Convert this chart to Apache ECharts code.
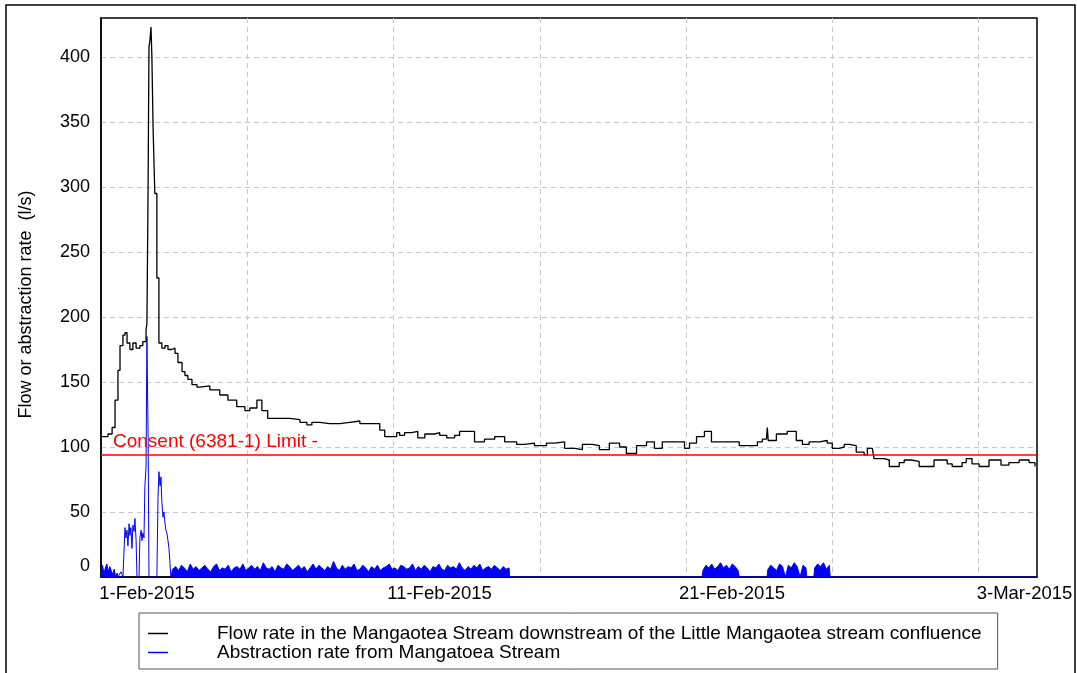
<!DOCTYPE html>
<html>
<head>
<meta charset="utf-8">
<title>Mangaotea Stream flow and abstraction</title>
<script src="https://cdn.jsdelivr.net/npm/echarts@6/dist/echarts.min.js"></script>
<style>
  html, body { margin: 0; padding: 0; background: #fff; }
  #main { width: 1077px; height: 673px; }
</style>
</head>
<body>
<div id="main"></div>
<script>
// all x values are days after 1-Feb-2015 00:00
var flowName = 'Flow rate in the Mangaotea Stream downstream of the Little Mangaotea stream confluence';
var absName = 'Abstraction rate from Mangatoea Stream';
var consentLabel = 'Consent (6381-1) Limit -';
var consentLimit = 94;

var xTickDays = [0, 10, 20, 30];
var xTickLabels = ['1-Feb-2015', '11-Feb-2015', '21-Feb-2015', '3-Mar-2015'];

// flow (l/s)
var flowDay = [0.00, 0.24, 0.38, 0.48, 0.58, 0.65, 0.75, 0.82, 0.89, 0.99, 1.09, 1.20, 1.33, 1.43, 1.54, 1.57,
  1.61, 1.64, 1.67, 1.71, 1.74, 1.78, 1.84, 1.91, 1.98, 2.08, 2.19, 2.29, 2.42, 2.53, 2.63, 2.77, 2.87, 2.97,
  3.11, 3.28, 3.38, 3.72, 4.06, 4.34, 4.64, 4.92, 5.09, 5.33, 5.50, 5.70, 5.94, 6.45, 6.80, 7.04, 7.21, 7.48,
  7.82, 8.16, 8.51, 8.85, 9.19, 9.53, 9.70, 9.87, 10.11, 10.21, 10.38, 10.62, 10.83, 11.07, 11.41, 11.58, 11.82,
  12.09, 12.26, 12.70, 12.77, 13.11, 13.46, 13.80, 14.21, 14.48, 14.82, 15.23, 15.51, 15.85, 16.19, 16.46, 16.80,
  17.04, 17.38, 17.73, 17.96, 18.31, 18.65, 18.92, 19.19, 19.54, 19.95, 20.12, 20.36, 20.63, 20.87, 21.14, 21.65,
  21.82, 22.17, 22.44, 22.61, 22.75, 22.78, 22.81, 23.09, 23.46, 23.77, 23.98, 24.21, 24.56, 24.83, 25.00, 25.24,
  25.41, 25.58, 25.82, 26.09, 26.20, 26.37, 26.43, 26.78, 26.95, 27.29, 27.46, 27.70, 27.97, 28.31, 28.48, 28.65,
  28.93, 29.10, 29.44, 29.58, 29.78, 30.02, 30.36, 30.60, 30.77, 31.04, 31.39, 31.73, 31.93];
var flowRate = [108, 110, 115, 136, 159, 178, 186, 188, 180, 175, 180, 176, 178, 181, 190, 195,
  300, 408, 412, 423, 400, 346, 295, 230, 180, 176, 178, 175, 176, 172, 165, 158, 155, 152,
  148, 146, 147, 144, 140, 136, 131, 128, 130, 136, 128, 122, 122, 121, 119, 117, 119, 118,
  118, 119, 120, 118, 118, 113, 108, 108, 111, 109, 111, 112, 107, 110, 111, 109, 107,
  109, 112, 112, 104, 106, 108, 104, 102, 103, 101, 103, 104, 99, 98, 102, 101,
  98, 103, 100, 95, 101, 104, 99, 104, 104, 99, 103, 108, 112, 104, 104, 104,
  101, 101, 104, 106, 106, 115, 105, 110, 112, 105, 102, 104, 105, 103, 99, 100,
  102, 101, 96, 94, 99, 100, 91, 90, 85, 88, 90, 89, 85, 85, 90, 90,
  87, 85, 88, 91, 87, 85, 90, 90, 86, 88, 90, 88, 85];

// abstraction (l/s): logged stretches sampled every 0.05 / 0.1 day, plus the early pulses
var absNoiseA = [6, 9, 3, 7, 10, 4, 8, 5, 2, 6, 0, 3];
var absPulseDay = [0.58, 0.68, 0.75, 0.82, 0.85, 0.89, 0.92, 0.96, 0.99, 1.02, 1.06, 1.09, 1.13, 1.16, 1.20, 1.23,
  1.30, 1.33, 1.37, 1.40, 1.43, 1.47, 1.50, 1.54, 1.57, 1.61, 1.64, 1.91, 1.95, 1.98, 2.02, 2.05, 2.08, 2.12,
  2.15, 2.19, 2.22, 2.25, 2.29, 2.32, 2.36, 2.39];
var absPulseRate = [0, 4, 0, 38, 30, 36, 24, 41, 32, 38, 22, 40, 35, 45, 28, 0,
  0, 30, 36, 28, 34, 30, 70, 85, 185, 110, 0, 0, 62, 81, 70, 77, 58, 46,
  50, 41, 36, 34, 28, 23, 10, 0];
var absNoiseB = [6, 8, 5, 9, 7, 4, 10, 6, 8, 5, 7, 9, 6, 4, 8, 10, 5, 7, 6, 9,
  4, 7, 8, 6, 10, 5, 7, 9, 6, 8, 5, 11, 7, 6, 8, 4, 9, 7, 6, 10,
  8, 5, 7, 9, 6, 8, 4, 7, 10, 6, 9, 7, 5, 8, 6, 12, 7, 5, 9, 6,
  8, 7, 10, 5, 6, 9, 7, 4, 8, 6, 9, 5, 7, 8, 10, 6, 7, 5, 9, 8,
  6, 7, 10, 5, 8, 6, 9, 7, 4, 8, 7, 10, 6, 5, 9, 7, 8, 6, 11, 7,
  5, 8, 6, 9, 7, 10, 5, 7, 8, 6, 9, 7, 5, 8, 6, 7];
var absNoiseC = [5, 9, 7, 10, 6, 8, 11, 7, 9, 6, 10, 8, 5];
var absNoiseD = [6, 9, 7, 5, 10, 8, 0, 9, 7, 11, 8, 0, 9, 7];
var absNoiseE = [7, 10, 8, 11, 6, 9];

function dayKey(v) { return Math.round(v * 100) / 100; }

var flowData = flowDay.map(function (d, i) { return [d, flowRate[i]]; });

var absData = [];
function addStretch(start, step, vals) {
  vals.forEach(function (v, i) { absData.push([dayKey(start + i * step), v]); });
}
addStretch(0, 0.05, absNoiseA);
absPulseDay.forEach(function (d, i) { absData.push([d, absPulseRate[i]]); });
addStretch(2.45, 0.1, absNoiseB);
absData.push([13.97, 0], [20.55, 0]);
addStretch(20.58, 0.1, absNoiseC);
absData.push([21.82, 0], [22.77, 0]);
addStretch(22.80, 0.1, absNoiseD);
absData.push([24.13, 0], [24.37, 0]);
addStretch(24.40, 0.1, absNoiseE);
absData.push([24.93, 0], [31.97, 0]);

// dense logging shows as a solid band; the pulse stretch is drawn as a line only
var firstDay = absData[0][0], lastDay = absData[absData.length - 1][0];
var f0 = (absPulseDay[0] - firstDay) / (lastDay - firstDay);
var f1 = (absPulseDay[absPulseDay.length - 1] - firstDay) / (lastDay - firstDay);
var absFill = new echarts.graphic.LinearGradient(0, 0, 1, 0, [
  { offset: 0, color: '#0000ff' }, { offset: f0, color: '#0000ff' },
  { offset: f0, color: 'rgba(0,0,255,0)' }, { offset: f1, color: 'rgba(0,0,255,0)' },
  { offset: f1, color: '#0000ff' }, { offset: 1, color: '#0000ff' }
]);

var font = 'Liberation Sans, Arial, sans-serif';
var gridDash = { show: true, showMinLine: false, showMaxLine: false, lineStyle: { color: '#c8c8c8', type: [5, 4] } };
var chart = echarts.init(document.getElementById('main'));
chart.setOption({
  animation: false,
  textStyle: { fontFamily: font },
  graphic: [{
    type: 'rect', silent: true, z: 100,
    shape: { x: 6, y: 5, width: 1069, height: 720 },
    style: { fill: 'none', stroke: '#000', lineWidth: 1.5 }
  }],
  grid: { left: 101, top: 18, right: 40, bottom: 96, show: true, borderColor: '#000', borderWidth: 1.5, outerBoundsMode: 'none' },
  legend: {
    orient: 'vertical', left: 139, top: 613,
    data: [flowName, absName],
    selectedMode: false,
    icon: 'rect', itemWidth: 20, itemHeight: 1.5, itemGap: 0,
    padding: [11, 16, 7, 9],
    borderColor: '#555', borderWidth: 1,
    textStyle: { fontFamily: font, fontSize: 19, color: '#000', lineHeight: 18, padding: [0, 0, 0, 44] }
  },
  xAxis: {
    type: 'value', min: 0, max: 32, interval: 5,
    axisLine: { lineStyle: { color: '#000', width: 1.5 } },
    axisTick: { show: false },
    splitLine: gridDash,
    axisLabel: {
      color: '#000', fontSize: 18.5, margin: 7, padding: [0, 0, 0, 92],
      formatter: function (v) {
        var k = xTickDays.indexOf(v);
        return k < 0 ? '' : xTickLabels[k];
      }
    }
  },
  yAxis: {
    type: 'value', min: 0, max: 430, interval: 50,
    name: 'Flow or abstraction rate  (l/s)', nameLocation: 'middle', nameGap: 66,
    nameTextStyle: { fontSize: 18, color: '#000', padding: [0, 14, 0, 0] },
    axisLine: { show: true, lineStyle: { color: '#000', width: 1.5 } },
    axisTick: { show: false },
    splitLine: gridDash,
    axisLabel: {
      color: '#000', fontSize: 18, margin: 11, showMaxLabel: false,
      formatter: function (v) { return v === 0 ? '{zero|0}' : String(v); },
      rich: { zero: { fontSize: 18, color: '#000', padding: [0, 0, 22, 0] } }
    }
  },
  series: [{
    name: absName, type: 'line', data: absData, symbol: 'none', color: '#0000ff',
    lineStyle: { width: 1, color: '#0000ff' },
    areaStyle: { color: absFill, opacity: 1 },
    z: 2
  }, {
    name: flowName, type: 'line', data: flowData, symbol: 'none', step: 'end', color: '#000',
    lineStyle: { width: 1.3, color: '#000' },
    z: 3,
    markLine: {
      silent: true, symbol: 'none',
      data: [{ yAxis: consentLimit, name: consentLabel }],
      lineStyle: { color: '#ff0000', width: 1.5, type: 'solid' },
      label: { position: 'insideStartTop', formatter: '{b}', color: '#ff0000', fontSize: 19, distance: [12, 4] }
    }
  }]
});
</script>
</body>
</html>
